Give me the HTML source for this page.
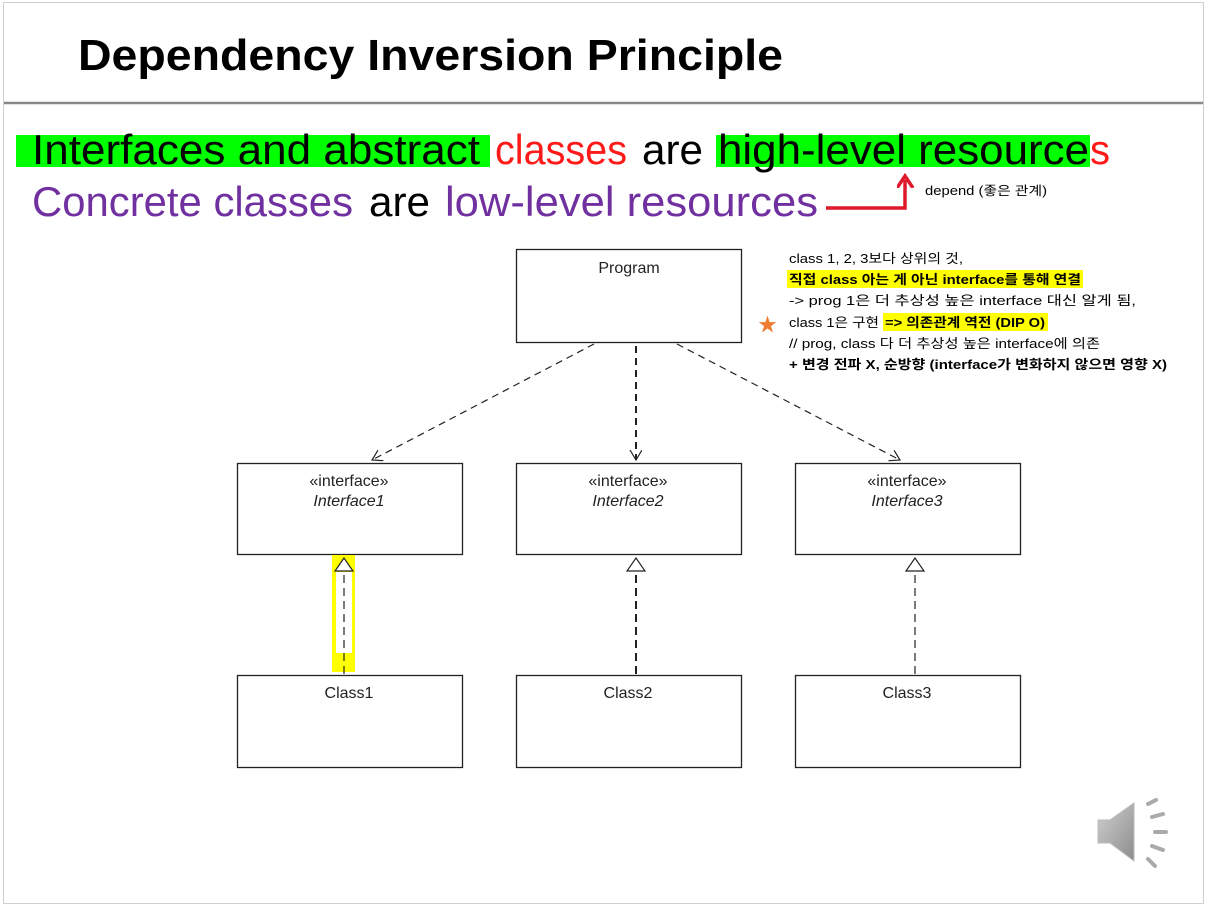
<!DOCTYPE html>
<html><head><meta charset="utf-8"><style>
html,body{margin:0;padding:0;background:#fff;}
svg{display:block;}
.k{font-family:"Liberation Sans","Noto Sans CJK KR",sans-serif;}
</style></head><body>
<svg width="1208" height="907" viewBox="0 0 1208 907" xmlns="http://www.w3.org/2000/svg" class="k">
<defs>
<marker id="op" markerWidth="14" markerHeight="14" refX="10" refY="6" orient="auto" markerUnits="userSpaceOnUse">
<path d="M0,0 L10,6 L0,12" fill="none" stroke="#222" stroke-width="1.2"/></marker>
<marker id="ra" markerWidth="20" markerHeight="20" refX="8" refY="8" orient="auto" markerUnits="userSpaceOnUse">
<path d="M0,0 L12,8 L0,16" fill="none" stroke="#e0182b" stroke-width="3.5"/></marker>
<linearGradient id="sp" x1="0" y1="0" x2="1" y2="1"><stop offset="0" stop-color="#d0d0d0"/><stop offset="1" stop-color="#8c8c8c"/></linearGradient>
</defs>
<rect x="3.5" y="2.5" width="1200" height="901" fill="#fff" stroke="#d0d0d0"/>
<line x1="4" y1="103" x2="1203" y2="103" stroke="#888" stroke-width="2.5"/>
<text x="78" y="70" font-size="44" font-weight="bold" textLength="705" lengthAdjust="spacingAndGlyphs">Dependency Inversion Principle</text>

<rect x="16" y="135" width="474" height="32" fill="#00ff00"/>
<rect x="716" y="135" width="374" height="32" fill="#00ff00"/>
<g font-size="42">
<text x="32" y="164" textLength="448" lengthAdjust="spacingAndGlyphs">Interfaces and abstract</text>
<text x="495" y="164" fill="#ff1a1a" textLength="132" lengthAdjust="spacingAndGlyphs">classes</text>
<text x="642" y="164" textLength="61" lengthAdjust="spacingAndGlyphs">are</text>
<text x="718" y="164" textLength="371" lengthAdjust="spacingAndGlyphs">high-level resource</text>
<text x="1090" y="164" fill="#ff1a1a" textLength="20" lengthAdjust="spacingAndGlyphs">s</text>
<text x="32" y="216" fill="#7030a0" textLength="321" lengthAdjust="spacingAndGlyphs">Concrete classes</text>
<text x="369" y="216" textLength="61" lengthAdjust="spacingAndGlyphs">are</text>
<text x="445" y="216" fill="#7030a0" textLength="373" lengthAdjust="spacingAndGlyphs">low-level resources</text>
</g>
<path d="M826,208 L905,208 L905,180" fill="none" stroke="#e0182b" stroke-width="3.5" marker-end="url(#ra)"/>
<text x="925" y="195" font-size="12.5" textLength="122" lengthAdjust="spacingAndGlyphs">depend (좋은 관계)</text>

<g fill="#fff" stroke="#222" stroke-width="1.3">
<rect x="516.5" y="249.5" width="225" height="93"/>
<rect x="237.5" y="463.5" width="225" height="91"/>
<rect x="516.5" y="463.5" width="225" height="91"/>
<rect x="795.5" y="463.5" width="225" height="91"/>
<rect x="237.5" y="675.5" width="225" height="92"/>
<rect x="516.5" y="675.5" width="225" height="92"/>
<rect x="795.5" y="675.5" width="225" height="92"/>
</g>
<g font-size="16" fill="#222" text-anchor="middle">
<text x="629" y="273">Program</text>
<text x="349" y="486">«interface»</text><text x="349" y="506" font-style="italic">Interface1</text>
<text x="628" y="486">«interface»</text><text x="628" y="506" font-style="italic">Interface2</text>
<text x="907" y="486">«interface»</text><text x="907" y="506" font-style="italic">Interface3</text>
<text x="349" y="698">Class1</text>
<text x="628" y="698">Class2</text>
<text x="907" y="698">Class3</text>
</g>
<g stroke="#222" stroke-width="1.2" stroke-dasharray="7,5" fill="none">
<line x1="594" y1="344" x2="372" y2="460" marker-end="url(#op)"/>
<line x1="636" y1="346" x2="636" y2="460" stroke-width="2" marker-end="url(#op)"/>
<line x1="677" y1="344" x2="900" y2="460" marker-end="url(#op)"/>
</g>
<rect x="332" y="555" width="23" height="117" fill="#ffff00"/>
<rect x="336" y="572" width="16" height="81" fill="#fff"/>
<g stroke="#222" fill="#fff" stroke-width="1.2">
<path d="M344,558 L335,571 L353,571 Z"/>
<path d="M636,558 L627,571 L645,571 Z"/>
<path d="M915,558 L906,571 L924,571 Z"/>
</g>
<g stroke="#222" stroke-dasharray="8,5" fill="none">
<line x1="344" y1="575" x2="344" y2="675" stroke-width="1.2"/>
<line x1="636" y1="575" x2="636" y2="675" stroke-width="2"/>
<line x1="915" y1="575" x2="915" y2="675" stroke-width="1.2"/>
</g>

<rect x="787" y="270" width="296" height="18" fill="#ffff00"/>
<rect x="883" y="313" width="165" height="18" fill="#ffff00"/>
<text x="789" y="263" font-size="13" textLength="174" lengthAdjust="spacingAndGlyphs">class 1, 2, 3보다 상위의 것,</text>
<text x="789" y="284" font-size="13" font-weight="bold" textLength="292" lengthAdjust="spacingAndGlyphs">직접 class 아는 게 아닌 interface를 통해 연결</text>
<text x="789" y="305" font-size="13" textLength="347" lengthAdjust="spacingAndGlyphs">-&gt; prog 1은 더 추상성 높은 interface 대신 알게 됨,</text>
<text x="789" y="327" font-size="13" textLength="90" lengthAdjust="spacingAndGlyphs">class 1은 구현</text>
<text x="885" y="327" font-size="13" font-weight="bold" textLength="160" lengthAdjust="spacingAndGlyphs">=&gt; 의존관계 역전 (DIP O)</text>
<text x="789" y="348" font-size="13" textLength="311" lengthAdjust="spacingAndGlyphs">// prog, class 다 더 추상성 높은 interface에 의존</text>
<text x="789" y="369" font-size="13" font-weight="bold" textLength="378" lengthAdjust="spacingAndGlyphs">+ 변경 전파 X, 순방향 (interface가 변화하지 않으면 영향 X)</text>
<text x="758" y="331" font-size="19" fill="#ed7d31">★</text>

<path d="M1098,820 L1110,820 L1134,803 L1134,861 L1110,843 L1098,843 Z" fill="url(#sp)" stroke="#bbb"/>
<g stroke="#aaa" stroke-width="4" stroke-linecap="round">
<line x1="1148" y1="804" x2="1156" y2="800"/>
<line x1="1152" y1="817" x2="1163" y2="814"/>
<line x1="1155" y1="832" x2="1166" y2="832"/>
<line x1="1152" y1="846" x2="1163" y2="850"/>
<line x1="1148" y1="859" x2="1155" y2="866"/>
</g>
</svg>
</body></html>
